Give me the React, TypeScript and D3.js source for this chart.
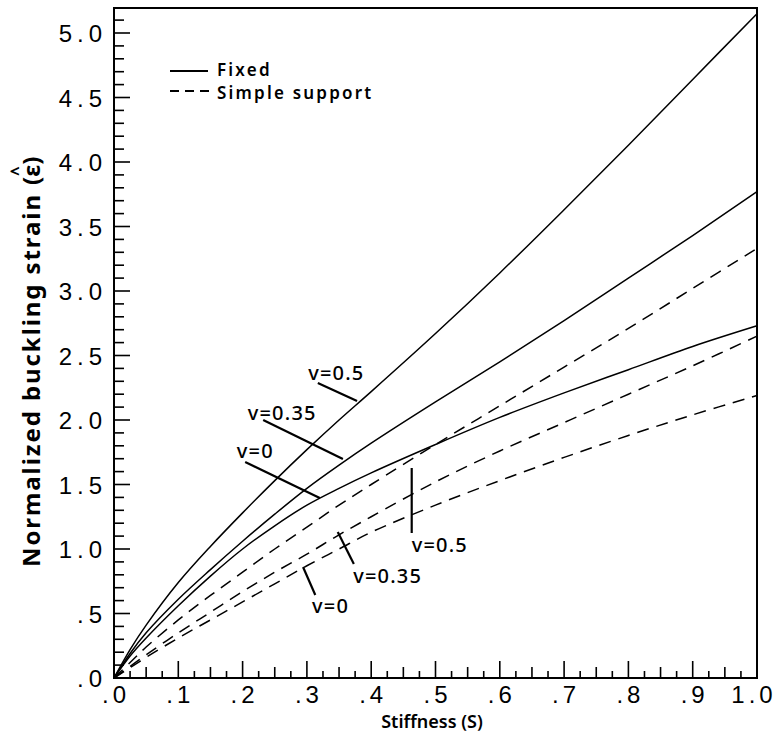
import React from "react";
import * as d3 from "d3";

// Stiffness values (x)
const stiffness = [0, 0.025, 0.05, 0.1, 0.15, 0.2, 0.25, 0.3, 0.35, 0.4, 0.5, 0.6, 0.7, 0.8, 0.9, 1.0];
// Fixed edges
const fixedNu05 = [0, 0.22, 0.41, 0.74, 1.02, 1.28, 1.53, 1.77, 2.0, 2.22, 2.67, 3.14, 3.63, 4.13, 4.64, 5.15];
const fixedNu035 = [0, 0.19, 0.35, 0.61, 0.84, 1.06, 1.27, 1.47, 1.65, 1.82, 2.14, 2.45, 2.77, 3.1, 3.43, 3.77];
const fixedNu0 = [0, 0.17, 0.31, 0.56, 0.79, 1.0, 1.18, 1.34, 1.47, 1.59, 1.81, 2.02, 2.21, 2.39, 2.57, 2.73];
// Simple support
const simpleNu05 = [0, 0.12, 0.24, 0.45, 0.64, 0.82, 1.0, 1.17, 1.34, 1.5, 1.81, 2.11, 2.41, 2.71, 3.02, 3.33];
const simpleNu035 = [0, 0.09, 0.18, 0.35, 0.51, 0.67, 0.82, 0.96, 1.11, 1.25, 1.52, 1.76, 1.98, 2.2, 2.42, 2.65];
const simpleNu0 = [0, 0.08, 0.16, 0.31, 0.45, 0.59, 0.73, 0.87, 1.0, 1.13, 1.34, 1.53, 1.71, 1.88, 2.04, 2.19];

const yTickLabels = [".0", ".5", "1.0", "1.5", "2.0", "2.5", "3.0", "3.5", "4.0", "4.5", "5.0"];
const xTickLabels = [".0", ".1", ".2", ".3", ".4", ".5", ".6", ".7", ".8", ".9", "1.0"];

// annotations: label text, text anchor point, leader start, leader end (data units)
const annoText = ["v=0.5", "v=0.35", "v=0", "v=0.5", "v=0.35", "v=0"];
const annoTextPos = [[0.302, 2.31], [0.208, 2.0], [0.191, 1.705], [0.463, 0.977], [0.372, 0.736], [0.308, 0.504]];
const annoLineFrom = [[0.317, 2.287], [0.232, 2.0], [0.204, 1.674], [0.463, 1.628], [0.348, 1.132], [0.294, 0.86]];
const annoLineTo = [[0.378, 2.147], [0.356, 1.698], [0.32, 1.395], [0.463, 1.124], [0.373, 0.884], [0.313, 0.643]];

const W = 777;
const H = 738;
const L = 114, R = 757, T = 8, B = 678;

export default function App() {
  const x = d3.scaleLinear().domain([0, 1]).range([L, R]);
  const y = d3.scaleLinear().domain([0, (B - T) / 129]).range([B, T]);

  const line = d3
    .line<number>()
    .x((_, i) => x(stiffness[i]))
    .y((d) => y(d))
    .curve(d3.curveCatmullRom.alpha(0.5));

  const solids = [fixedNu05, fixedNu035, fixedNu0];
  const dashes = [simpleNu05, simpleNu035, simpleNu0];

  const xTicks = d3.range(0, 41).map((i) => i * 0.025);
  const yTicks = d3.range(0, 52).map((i) => i * 0.1);

  const tickFont = "'Liberation Sans', Arial, sans-serif";
  const boldFont = "'Noto Sans', 'DejaVu Sans', sans-serif";

  return (
    <svg width={W} height={H} style={{ position: "absolute", left: 0, top: 0, background: "#fff" }}>
      <rect x={0} y={0} width={W} height={H} fill="#fff" />
      {/* curves */}
      {solids.map((s, i) => (
        <path key={"s" + i} d={line(s) || ""} fill="none" stroke="#000" strokeWidth={1.5} />
      ))}
      {dashes.map((s, i) => (
        <path key={"d" + i} d={line(s) || ""} fill="none" stroke="#000" strokeWidth={1.5} strokeDasharray="12,8" />
      ))}
      {/* frame */}
      <rect x={L} y={T} width={R - L} height={B - T} fill="none" stroke="#000" strokeWidth={2} />
      {/* x ticks */}
      {xTicks.map((t, i) => {
        const len = i % 4 === 0 ? 17 : i % 2 === 0 ? 11 : 7;
        return <line key={"xt" + i} x1={x(t)} x2={x(t)} y1={B} y2={B - len} stroke="#000" strokeWidth={1.6} />;
      })}
      {/* y ticks */}
      {yTicks.map((t, i) => {
        const len = i % 5 === 0 ? 16 : 10;
        return <line key={"yt" + i} x1={L} x2={L + len} y1={y(t)} y2={y(t)} stroke="#000" strokeWidth={1.6} />;
      })}
      {/* y tick labels */}
      {yTickLabels.map((lab, i) => (
        <text
          key={"yl" + i}
          x={102 + 5}
          y={y(i * 0.5) + 9}
          textAnchor="end"
          fontFamily={tickFont}
          fontSize={24}
          style={{ letterSpacing: "5px" }}
          fill="#000"
        >
          {lab}
        </text>
      ))}
      {/* x tick labels */}
      {xTickLabels.map((lab, i) => (
        <text
          key={"xl" + i}
          x={x(i * 0.1) + 2 - (i === 10 ? 5 : 0)}
          y={703}
          textAnchor="middle"
          fontFamily={tickFont}
          fontSize={24}
          style={{ letterSpacing: "4px" }}
          fill="#000"
        >
          {lab}
        </text>
      ))}
      {/* axis titles */}
      <text x={432} y={728} textAnchor="middle" fontFamily={boldFont} fontWeight={600} fontSize={18} fill="#000">
        Stiffness (S)
      </text>
      <g transform="translate(40,567) rotate(-90)">
        <text x={0} y={0} fontFamily={boldFont} fontWeight={700} fontSize={24} textLength={372} lengthAdjust="spacing" fill="#000">
          Normalized buckling strain
        </text>
        <text x={382} y={0} fontFamily={boldFont} fontWeight={700} fontSize={24} fill="#000">
          (ε)
        </text>
        <text x={391} y={-16} fontFamily={boldFont} fontWeight={700} fontSize={17} fill="#000">
          ^
        </text>
      </g>
      {/* legend */}
      <line x1={170} x2={208} y1={71} y2={71} stroke="#000" strokeWidth={2} />
      <text x={217} y={76} fontFamily={boldFont} fontWeight={600} fontSize={17} style={{ letterSpacing: "2.2px" }} fill="#000">
        Fixed
      </text>
      <line x1={170} x2={214} y1={91} y2={91} stroke="#000" strokeWidth={2} strokeDasharray="9,6" />
      <text x={217} y={99} fontFamily={boldFont} fontWeight={600} fontSize={17} style={{ letterSpacing: "2.2px" }} fill="#000">
        Simple support
      </text>
      {/* annotations */}
      {annoText.map((t, i) => (
        <g key={"a" + i}>
          <line
            x1={x(annoLineFrom[i][0])}
            y1={y(annoLineFrom[i][1])}
            x2={x(annoLineTo[i][0])}
            y2={y(annoLineTo[i][1])}
            stroke="#000"
            strokeWidth={2.2}
          />
          <text
            x={x(annoTextPos[i][0])}
            y={y(annoTextPos[i][1])}
            fontFamily={boldFont}
            fontWeight={500}
            fontSize={20}
            style={{ letterSpacing: "1.2px" }}
            fill="#000"
          >
            {t}
          </text>
        </g>
      ))}
    </svg>
  );
}
